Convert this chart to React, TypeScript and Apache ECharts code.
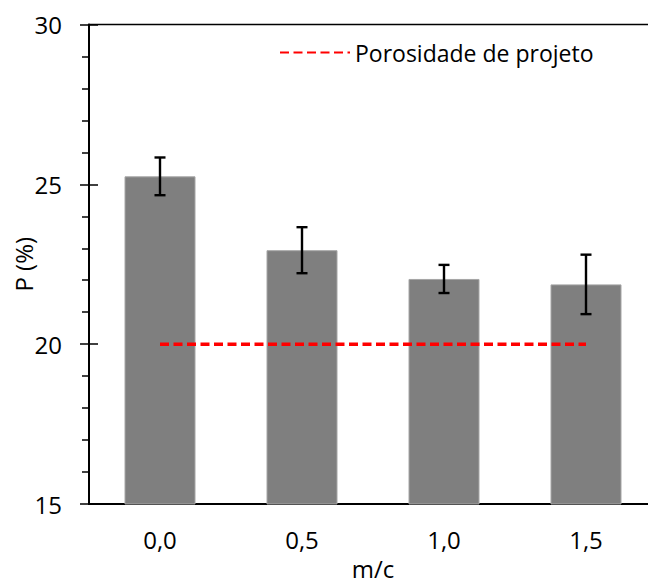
import React, { useEffect, useRef } from "react";
import * as echarts from "echarts";

const categories = ["0,0", "0,5", "1,0", "1,5"];
const porosity = [25.25, 22.94, 22.04, 21.87];
const errors = [0.59, 0.72, 0.44, 0.93];
const designPorosity = [20, 20, 20, 20];
const yTicks = { min: 15, max: 30, interval: 5 };

const FONT = "'Open Sans', sans-serif";

export default function App() {
  const ref = useRef<HTMLDivElement>(null);
  useEffect(() => {
    document.body.style.margin = "0";
    if (!ref.current) return;
    const chart = echarts.init(ref.current, null, { renderer: "svg" });
    const errData = porosity.map((v, i) => [i, v - errors[i], v + errors[i]]);
    chart.setOption({
      animation: false,
      textStyle: { fontFamily: FONT, color: "#000" },
      grid: {
        left: 89,
        right: -9,
        top: 24.5,
        bottom: 77,
        outerBoundsMode: "none",
        containLabel: false,
        show: true,
        borderColor: "#000",
        borderWidth: 1.5,
      },
      legend: {
        left: 274,
        top: 36,
        itemWidth: 70,
        itemHeight: 14,
        itemGap: 8,
        data: ["Porosidade de projeto"],
        itemStyle: { opacity: 0 },
        textStyle: { fontFamily: FONT, fontSize: 23, color: "#000" },
      },
      xAxis: {
        type: "category",
        data: categories,
        boundaryGap: true,
        name: "m/c",
        nameLocation: "middle",
        nameGap: 52,
        nameMoveOverlap: false,
        nameTextStyle: { fontFamily: FONT, fontSize: 24, color: "#000" },
        axisLine: { lineStyle: { color: "#000", width: 2 } },
        axisTick: { show: false },
        axisLabel: { fontFamily: FONT, fontSize: 24, color: "#000", margin: 23 },
        splitLine: { show: false },
      },
      yAxis: [
        {
          type: "value",
          min: yTicks.min,
          max: yTicks.max,
          interval: yTicks.interval,
          name: "P (%)",
          nameLocation: "middle",
          nameGap: 54,
          nameMoveOverlap: false,
          nameTextStyle: { fontFamily: FONT, fontSize: 24, color: "#000" },
          axisLine: { show: true, lineStyle: { color: "#000", width: 2 } },
          axisTick: { show: true, inside: false, length: 9, lineStyle: { color: "#000", width: 1.5 } },
          minorTick: { show: true, splitNumber: 5, length: 7, lineStyle: { color: "#000", width: 1.5 } },
          axisLabel: { fontFamily: FONT, fontSize: 24, color: "#000", margin: 27 },
          splitLine: { show: false },
        },
        {
          type: "value",
          position: "left",
          min: yTicks.min,
          max: yTicks.max,
          interval: yTicks.interval,
          axisLine: { show: false },
          axisTick: { show: true, inside: true, length: 9, lineStyle: { color: "#000", width: 1.5 } },
          axisLabel: { show: false },
          splitLine: { show: false },
        },
      ],
      series: [
        {
          name: "P",
          type: "bar",
          data: porosity,
          barWidth: "50%",
          itemStyle: { color: "#7f7f7f", borderColor: "#a6a6a6", borderWidth: 1 },
          z: 2,
        },
        {
          name: "Porosidade de projeto",
          type: "line",
          data: designPorosity,
          symbol: "none",
          lineStyle: { color: "#ff0000", width: 3.5, type: [9, 4.5] },
          itemStyle: { color: "#ff0000" },
          z: 4,
        },
        {
          name: "erro",
          type: "custom",
          data: errData,
          z: 5,
          renderItem: (params: any, api: any) => {
            const x = api.value(0);
            const lo = api.coord([x, api.value(1)]);
            const hi = api.coord([x, api.value(2)]);
            const half = 5.5;
            const style = { stroke: "#000", lineWidth: 2.4 };
            return {
              type: "group",
              children: [
                { type: "line", shape: { x1: lo[0], y1: lo[1], x2: hi[0], y2: hi[1] }, style },
                { type: "line", shape: { x1: lo[0] - half, y1: lo[1], x2: lo[0] + half, y2: lo[1] }, style },
                { type: "line", shape: { x1: hi[0] - half, y1: hi[1], x2: hi[0] + half, y2: hi[1] }, style },
              ],
            };
          },
        },
      ],
    });
    return () => chart.dispose();
  }, []);
  return <div ref={ref} style={{ width: 648, height: 581 }} />;
}
